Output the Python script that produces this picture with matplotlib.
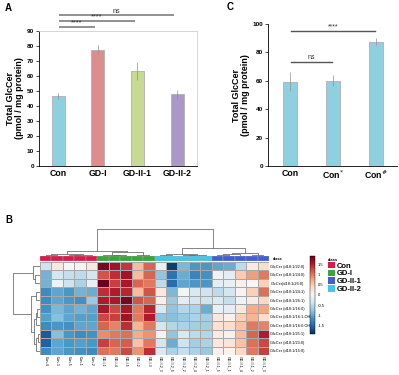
import matplotlib
matplotlib.use("Agg")
import matplotlib.pyplot as plt
from matplotlib.patches import Patch
import numpy as np

plt.rcParams['font.family'] = ['Liberation Sans', 'DejaVu Sans']

# panel A
groups_a = ["Con", "GD-I", "GD-II-1", "GD-II-2"]
vals_a = [46.5, 77.5, 63.5, 48.0]
err_a = [2.0, 3.0, 6.0, 3.0]
colors_a = ["#8fd0e0", "#dc8e8e", "#c6da92", "#ab98c8"]
sig_a = [(1, "****"), (2, "****"), (3, "ns")]

# panel C
groups_c = ["Con", "Con*", "Con#"]
vals_c = [59.5, 60.0, 87.5]
err_c = [6.5, 4.0, 2.5]
sig_c = [(0, 1, "ns", 73), (0, 2, "****", 95)]

# panel B heatmap (z-scores), rows = species, columns = samples
row_labels = ["GlcCer (d18:1/22:0)", "GlcCer (d18:1/24:0)", "GlcCer(d18:1/26:0)",
              "GlcCer (d18:1/24:1)", "GlcCer (d18:1/26:1)", "GlcCer (d18:1/16:0)",
              "GlcCer (d18:1/16:1-OH)", "GlcCer (d18:1/16:0-OH)", "GlcCer (d18:1/25:1)",
              "GlcCer (d18:1/23:0)", "GlcCer (d18:1/15:0)"]
col_labels = ["Con-4", "Con-3", "Con-5", "Con-1", "Con-2",
              "GD-I-1", "GD-I-4", "GD-I-5", "GD-I-2", "GD-I-3",
              "GD-II-2_3", "GD-II-2_5", "GD-II-2_2", "GD-II-2_4", "GD-II-2_1",
              "GD-II-1_5", "GD-II-1_1", "GD-II-1_4", "GD-II-1_2", "GD-II-1_3"]
col_class = ["Con"] * 5 + ["GD-I"] * 5 + ["GD-II-2"] * 5 + ["GD-II-1"] * 5
class_colors = {"Con": "#e0174a", "GD-I": "#37a73a", "GD-II-1": "#3f5fd6", "GD-II-2": "#3ec9ea"}

con = [[-0.4, 0.2, 0.0, 0.05, 0.2],
       [-0.9, -0.35, -0.45, -0.5, -0.35],
       [-0.9, -0.1, -0.4, -0.6, -0.15],
       [-1.2, -1.0, -1.1, -0.9, -0.95],
       [-1.2, -1.0, -1.1, -1.15, -0.7],
       [-1.15, -0.85, -1.0, -0.9, -1.0],
       [-1.05, -0.8, -1.0, -1.05, -1.05],
       [-1.2, -1.1, -1.15, -1.0, -1.0],
       [-1.6, -0.8, -1.1, -1.2, -1.15],
       [-1.55, -1.0, -1.1, -1.05, -1.1],
       [-1.2, -1.0, -1.1, -1.15, -1.2]]
gd1 = [[1.8, 1.6, 1.35, 0.6, 1.1],
       [1.2, 1.4, 1.6, 0.6, 1.1],
       [1.95, 1.3, 1.55, 1.1, 1.0],
       [1.4, 1.5, 1.45, 0.6, 1.2],
       [1.5, 1.55, 1.8, 1.2, 1.1],
       [1.55, 1.25, 1.55, 1.0, 1.45],
       [1.25, 1.3, 1.6, 1.0, 1.5],
       [1.1, 0.95, 1.4, 0.65, 1.0],
       [0.9, 1.0, 1.05, 0.7, 0.85],
       [1.3, 1.1, 1.15, 0.55, 1.0],
       [1.05, 1.0, 1.25, 0.85, 1.4]]
gd22 = [[-0.15, -1.8, -0.85, -1.1, -1.1],
        [-0.75, -1.4, -0.95, -1.25, -1.15],
        [-0.5, -1.45, -1.0, -1.1, -1.1],
        [0.2, -0.85, -0.05, -0.3, -0.4],
        [0.1, -0.7, -0.2, -0.35, -0.4],
        [-0.3, -0.75, -0.55, -0.6, -0.95],
        [-0.75, -0.8, -0.7, -0.6, -0.65],
        [-0.35, -0.55, -0.6, -0.65, -0.65],
        [-0.05, -0.75, -0.3, -0.5, -0.55],
        [-0.35, -0.95, -0.4, -0.65, -0.6],
        [-0.3, -0.6, -0.45, -0.6, -0.7]]
gd21 = [[-1.0, -0.95, -0.5, 0.15, 0.35],
        [-0.1, -0.2, 0.5, 0.8, 1.0],
        [-0.2, -0.15, 0.1, 0.0, 0.45],
        [-0.5, -0.35, 0.05, 0.45, 1.05],
        [-0.3, -0.45, -0.1, 0.15, 0.4],
        [-0.15, -0.2, 0.2, 0.7, 0.75],
        [0.2, 0.1, 0.45, 0.65, 0.35],
        [0.3, 0.35, 0.55, 1.0, 0.95],
        [0.15, 0.1, 0.6, 1.1, 1.5],
        [0.2, 0.25, 0.55, 1.05, 1.25],
        [0.1, 0.05, 0.4, 1.0, 1.3]]

# dendrograms as (left, right, height), leaves are indices in display order
col_tree = ((((0, 1, 0.35), ((2, 3, 0.25), 4, 0.5), 0.8),
             ((5, (6, 7, 0.3), 0.55), (8, 9, 0.45), 1.3), 1.83),
            (((10, 11, 0.5), ((12, 13, 0.3), 14, 0.45), 0.9),
             (((15, 16, 0.3), 17, 0.6), (18, 19, 0.5), 1.2), 2.9), 10)
row_tree = ((0, (1, 2, 1.9), 2.7),
            ((3, 4, 1.6), (((5, 6, 1.0), 7, 1.5), ((8, 9, 0.9), 10, 1.4), 2.4), 3.5), 10)

W, H = 399, 375
fig = plt.figure(figsize=(W / 100, H / 100), dpi=100)

def fax(l, t, r, b):
    return fig.add_axes([l / W, 1 - b / H, (r - l) / W, (b - t) / H])

def style_bar_axes(ax):
    ax.spines['top'].set_color('#d0d0d0')
    ax.spines['right'].set_color('#d0d0d0')
    for s in ax.spines.values():
        s.set_linewidth(0.6)
    ax.tick_params(axis='y', labelsize=4.6, length=2, width=0.5, pad=1.5)
    ax.tick_params(axis='x', labelsize=6.3, length=0, pad=2)
    for t in ax.get_yticklabels() + ax.get_xticklabels():
        t.set_fontweight('bold')
    ax.set_ylabel("Total GlcCer\n(pmol / mg protein)", fontsize=6.5, fontweight='bold',
                  labelpad=2, linespacing=1.0)

# ---- A ----
axA = fax(39, 31, 197, 166)
xa = np.arange(len(groups_a))
axA.bar(xa, vals_a, width=0.33, color=colors_a, edgecolor='#b0b0b0', linewidth=0.6)
axA.errorbar(xa, vals_a, yerr=err_a, fmt='none', ecolor='#909090', elinewidth=0.5, capsize=0)
axA.set_xlim(-0.48, 3.5)
axA.set_ylim(0, 90)
axA.set_yticks(range(0, 91, 10))
axA.set_xticks(xa)
axA.set_xticklabels(groups_a)
style_bar_axes(axA)
for k, (j, lab) in enumerate(sig_a):
    y = 92.7 + k * 3.9
    axA.plot([0.02, j - 0.07], [y, y], color='#888888', lw=1.3, clip_on=False,
             solid_capstyle='butt')
    axA.text((j - 0.05) / 2, y + 0.2, lab, ha='center', va='bottom', fontsize=5.2,
             color='#333333', clip_on=False)
fig.text(5 / W, 1 - 8 / H, "A", fontsize=7, fontweight='bold', va='center')

# ---- C ----
axC = fax(268, 24, 397, 166)
xc = np.arange(len(groups_c))
axC.bar(xc, vals_c, width=0.33, color="#8fd0e0", edgecolor='#b0b0b0', linewidth=0.6)
axC.errorbar(xc, vals_c, yerr=err_c, fmt='none', ecolor='#909090', elinewidth=0.5, capsize=0)
axC.set_xlim(-0.51, 2.49)
axC.set_ylim(0, 100)
axC.set_yticks(range(0, 101, 20))
axC.set_xticks(xc)
axC.set_xticklabels(["Con", "Con$^{*}$", "Con$^{\\#}$"])
style_bar_axes(axC)
axC.spines['top'].set_visible(False)
axC.spines['right'].set_visible(False)
for i0, i1, lab, y in sig_c:
    axC.plot([i0 + 0.02, i1 - 0.02], [y, y], color='#555555', lw=1.0)
    axC.text((i0 + i1) / 2, y + 0.8, lab, ha='center', va='bottom', fontsize=5.0, color='#333333')
fig.text(227 / W, 1 - 7 / H, "C", fontsize=7, fontweight='bold', va='center')

# ---- B ----
fig.text(5 / W, 1 - 220 / H, "B", fontsize=7, fontweight='bold', va='center')
data = np.hstack([np.array(con), np.array(gd1), np.array(gd22), np.array(gd21)])
nr, nc = data.shape

axH = fax(40, 262, 269, 355)
mesh = axH.pcolormesh(data, cmap='RdBu_r', vmin=-1.9, vmax=1.9,
                      edgecolors='#a8a8a8', linewidth=0.4)
axH.set_xlim(0, nc)
axH.set_ylim(nr, 0)
axH.set_xticks(np.arange(nc) + 0.5)
axH.set_xticklabels(col_labels, rotation=270, fontsize=2.6)
axH.yaxis.tick_right()
axH.set_yticks(np.arange(nr) + 0.5)
axH.set_yticklabels(row_labels, fontsize=2.8)
axH.tick_params(length=0, pad=1)
for s in axH.spines.values():
    s.set_visible(False)

axK = fax(40, 256, 269, 261)
for i, c in enumerate(col_class):
    axK.bar(i + 0.5, 1, width=1, color=class_colors[c], edgecolor='#a8a8a8', linewidth=0.3)
axK.set_xlim(0, nc)
axK.set_ylim(0, 1)
axK.set_xticks([])
axK.set_yticks([])
for s in axK.spines.values():
    s.set_visible(False)
axK.text(nc + 0.3, 0.5, "class", fontsize=2.8, fontweight='bold', va='center')

def draw_tree(ax, node, horizontal):
    if isinstance(node, int):
        return node + 0.5, 0.0
    left, right, h = node
    pl, hl = draw_tree(ax, left, horizontal)
    pr, hr = draw_tree(ax, right, horizontal)
    xs, ys = [pl, pl, pr, pr], [hl, h, h, hr]
    if horizontal:
        ax.plot(ys, xs, color='#707070', lw=0.6)
    else:
        ax.plot(xs, ys, color='#707070', lw=0.6)
    return (pl + pr) / 2, h

axD = fax(40, 226, 269, 256)
draw_tree(axD, col_tree, False)
axD.set_xlim(0, nc)
axD.set_ylim(0, 11)
axD.axis('off')

axR = fax(12, 262, 40, 355)
draw_tree(axR, row_tree, True)
axR.set_xlim(10.5, 0)
axR.set_ylim(nr, 0)
axR.axis('off')

cax = fax(310, 256, 315, 334)
cb = fig.colorbar(mesh, cax=cax, ticks=[-1.5, -1, -0.5, 0, 0.5, 1, 1.5])
cb.ax.set_yticklabels(["-1.5", "-1", "-0.5", "0", "0.5", "1", "1.5"])
cb.ax.tick_params(labelsize=3, length=0, pad=2)
cb.outline.set_linewidth(0.3)

handles = [Patch(facecolor=class_colors[k], edgecolor='none') for k in ["Con", "GD-I", "GD-II-1", "GD-II-2"]]
leg = fig.legend(handles, ["Con", "GD-I", "GD-II-1", "GD-II-2"], loc='upper left',
                 bbox_to_anchor=(324 / W, 1 - 254 / H), title="class", frameon=False,
                 prop=dict(size=5.5, weight='bold'), title_fontsize=3, handlelength=0.9,
                 handleheight=0.9, handletextpad=0.25, labelspacing=0.0, borderpad=0,
                 alignment='left')
leg.get_title().set_fontweight('bold')

fig.savefig("out.png", dpi=100)
